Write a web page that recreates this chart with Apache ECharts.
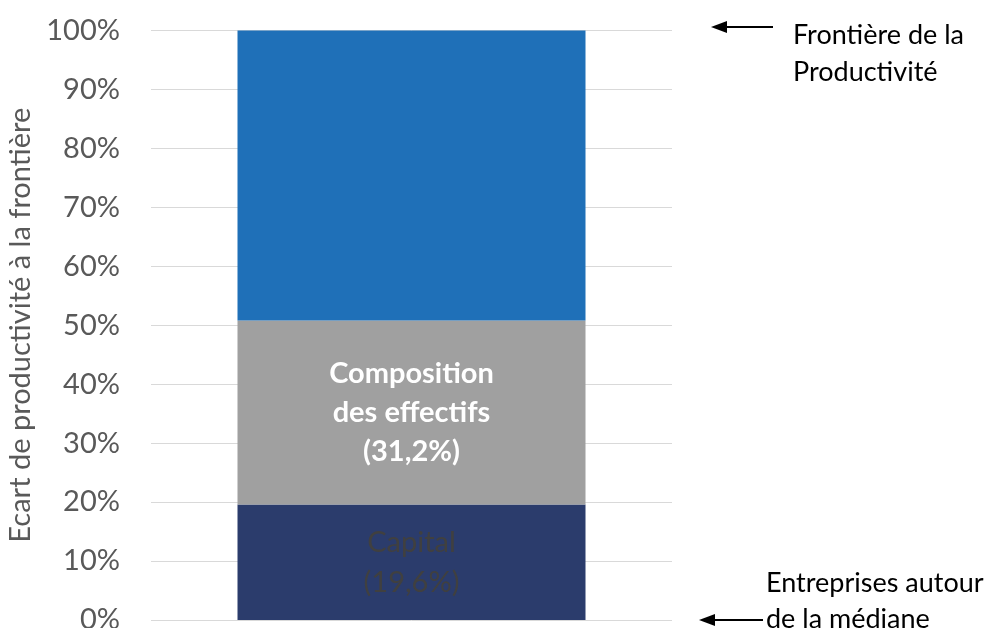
<!DOCTYPE html>
<html>
<head>
<meta charset="utf-8">
<script src="https://cdn.jsdelivr.net/npm/echarts@6/dist/echarts.min.js"></script>
<style>
  html, body { margin: 0; padding: 0; background: #fff; }
  #chart { width: 990px; height: 628px; }
</style>
</head>
<body>
<div id="chart"></div>
<script>
// Decomposition of the productivity gap between median firms and the frontier
const categories = ['Écart'];
const capital = [19.6];
const composition = [31.2];
const reste = [49.2];
const yTicks = [0, 10, 20, 30, 40, 50, 60, 70, 80, 90, 100];

const FONT = 'Lato, "Open Sans", sans-serif';

const chart = echarts.init(document.getElementById('chart'), null, { renderer: 'canvas' });

chart.setOption({
  animation: false,
  grid: {
    left: 151, right: 318, top: 30.5, bottom: 8,
    containLabel: false,
    outerBoundsMode: 'none'
  },
  xAxis: {
    type: 'category',
    data: categories,
    axisLine: { show: false },
    axisTick: { show: false },
    axisLabel: { show: false }
  },
  yAxis: {
    type: 'value',
    min: yTicks[0],
    max: yTicks[yTicks.length - 1],
    interval: 10,
    name: 'Ecart de productivité à la frontière',
    nameLocation: 'middle',
    nameGap: 115,
    nameTextStyle: { color: '#595959', fontSize: 29, fontFamily: FONT },
    axisLine: { show: false },
    axisTick: { show: false },
    axisLabel: {
      formatter: v => v + '%',
      color: '#595959',
      fontSize: 29,
      fontFamily: FONT,
      margin: 31
    },
    splitLine: { lineStyle: { color: '#D9D9D9', width: 1 } }
  },
  series: [
    {
      name: 'Capital',
      type: 'bar',
      stack: 'total',
      data: capital,
      barWidth: 348,
      itemStyle: { color: '#2B3C6C' },
      label: {
        show: true,
        position: 'inside',
        formatter: p => 'Capital\n(' + p.value.toFixed(1).replace('.', ',') + '%)',
        color: '#404040',
        fontSize: 29,
        lineHeight: 40,
        fontFamily: FONT
      }
    },
    {
      name: 'Composition des effectifs',
      type: 'bar',
      stack: 'total',
      data: composition,
      itemStyle: { color: '#A0A0A0' },
      label: {
        show: true,
        position: 'inside',
        formatter: p => 'Composition\ndes effectifs\n(' + p.value.toFixed(1).replace('.', ',') + '%)',
        color: '#FFFFFF',
        fontWeight: 'bold',
        fontSize: 29,
        lineHeight: 39,
        fontFamily: FONT
      }
    },
    {
      name: 'Reste',
      type: 'bar',
      stack: 'total',
      data: reste,
      itemStyle: { color: '#1F70B8' },
      label: { show: false }
    }
  ],
  graphic: [
    // frontier arrow and note
    {
      type: 'line',
      shape: { x1: 773, y1: 27, x2: 722, y2: 27 },
      style: { stroke: '#000', lineWidth: 2 }
    },
    {
      type: 'polygon',
      shape: { points: [[711, 27], [727, 21], [727, 33]] },
      style: { fill: '#000' }
    },
    {
      type: 'text',
      left: 793, top: 16.5,
      style: {
        text: 'Frontière de la\nProductivité',
        fill: '#000', fontSize: 27, lineHeight: 37, fontFamily: FONT
      }
    },
    // median arrow and note
    {
      type: 'line',
      shape: { x1: 763, y1: 620, x2: 710, y2: 620 },
      style: { stroke: '#000', lineWidth: 2 }
    },
    {
      type: 'polygon',
      shape: { points: [[699, 620], [715, 614], [715, 626]] },
      style: { fill: '#000' }
    },
    {
      type: 'text',
      left: 766, top: 565,
      style: {
        text: 'Entreprises autour\nde la médiane',
        fill: '#000', fontSize: 27, lineHeight: 36, fontFamily: FONT
      }
    }
  ]
});
</script>
</body>
</html>
